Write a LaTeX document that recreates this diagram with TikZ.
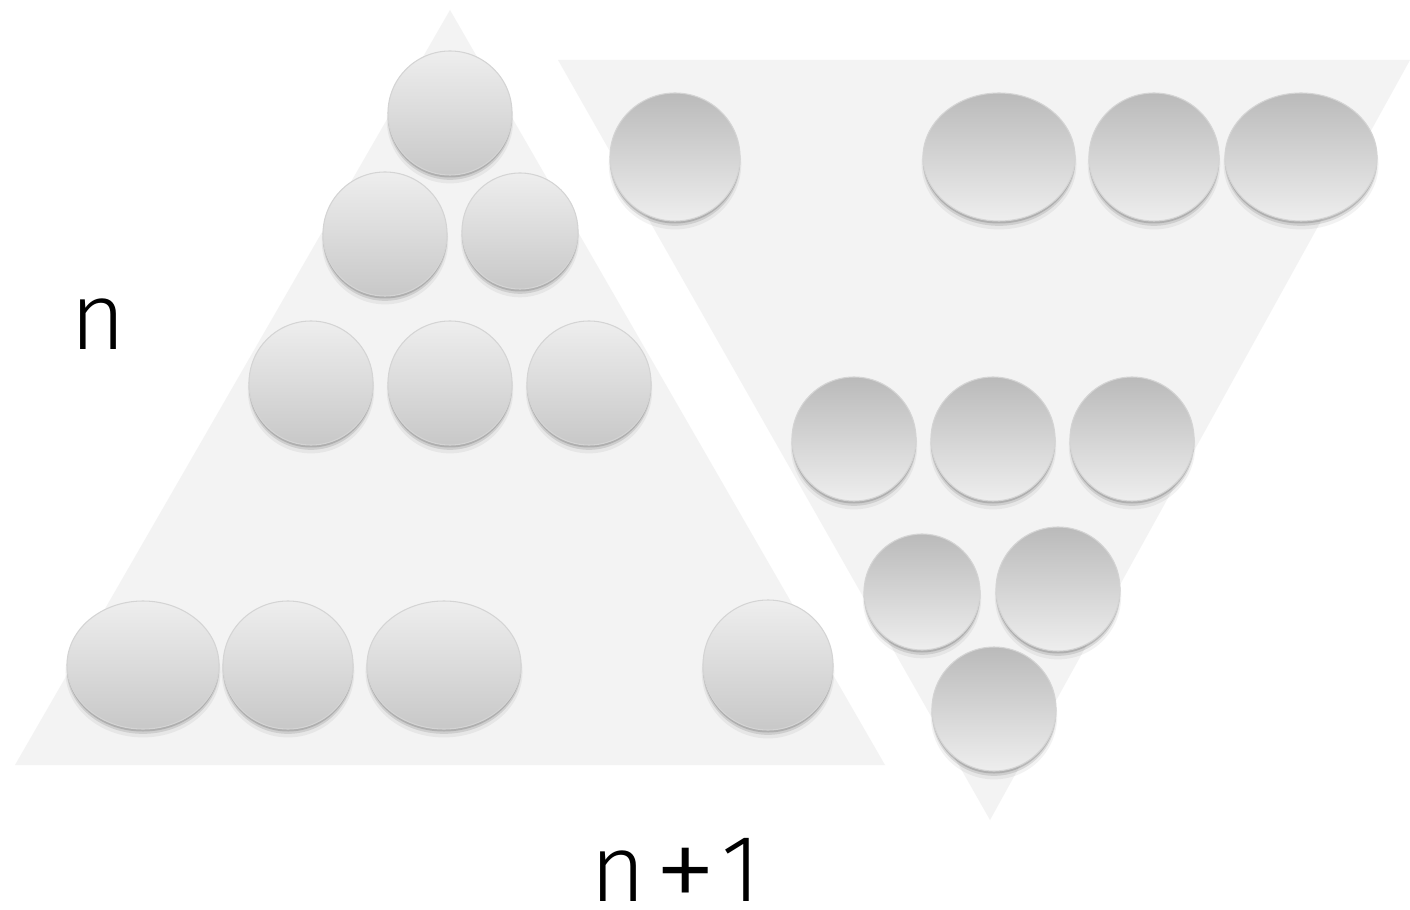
\documentclass[tikz,border=0pt]{standalone}
\usepackage{fontspec}
\setmainfont{Fira Sans}[UprightFont={* Light}]
\usetikzlibrary{shapes.geometric,shadows}
\definecolor{tri}{RGB}{243,243,243}
\definecolor{ltop}{RGB}{238,238,238}
\definecolor{lbot}{RGB}{200,200,200}
\definecolor{rtop}{RGB}{186,186,186}
\definecolor{rbot}{RGB}{238,238,238}
\definecolor{rim}{RGB}{212,212,212}
\tikzset{
  ballbase/.style={ellipse, inner sep=0pt, draw=rim, line width=0.3pt,
    general shadow={fill=black, opacity=0.05, shadow yshift=-0.07cm, shadow scale=1.02},
    general shadow={fill=black, opacity=0.10, shadow yshift=-0.045cm, shadow scale=1.005},
    general shadow={fill=black, opacity=0.15, shadow yshift=-0.025cm}},
  ballL/.style={ballbase, top color=ltop, bottom color=lbot},
  ballR/.style={ballbase, top color=rtop, bottom color=rbot},
  bsz/.style 2 args={minimum width=#1*0.01cm, minimum height=#2*0.01cm},
  lab/.style={font=\fontsize{27}{32}\selectfont, anchor=base, inner sep=0pt, text=black}
}
\begin{document}
\begin{tikzpicture}[x=0.01cm,y=-0.01cm]
\useasboundingbox (0,0) rectangle (1410,910);
\fill[white] (0,0) rectangle (1410,910);
% triangles
\fill[tri] (450,10) -- (885,765) -- (15,765) -- cycle;
\fill[tri] (558,60) -- (1410,60) -- (990,820) -- cycle;
% left triangle balls
\node[ballL, bsz={124}{124}] (L1) at (450,113) {};
\node[ballL, bsz={124}{124}] (L2) at (385,234) {};
\node[ballL, bsz={116}{116}] (L3) at (520,231) {};
\node[ballL, bsz={124}{124}] (L4) at (311,383) {};
\node[ballL, bsz={124}{124}] (L5) at (450,383) {};
\node[ballL, bsz={124}{124}] (L6) at (589,383) {};
\node[ballL, bsz={152}{128}] (L7) at (143,665) {};
\node[ballL, bsz={130}{128}] (L8) at (288,665) {};
\node[ballL, bsz={154}{128}] (L9) at (444,665) {};
\node[ballL, bsz={130}{130}] (L10) at (768,665) {};
% right triangle balls
\node[ballR, bsz={130}{128}] (R1) at (675,157) {};
\node[ballR, bsz={152}{128}] (R2) at (999,157) {};
\node[ballR, bsz={130}{128}] (R3) at (1154,157) {};
\node[ballR, bsz={152}{128}] (R4) at (1301,157) {};
\node[ballR, bsz={124}{124}] (R5) at (854,439) {};
\node[ballR, bsz={124}{124}] (R6) at (993,439) {};
\node[ballR, bsz={124}{124}] (R7) at (1132,439) {};
\node[ballR, bsz={116}{116}] (R8) at (922,592) {};
\node[ballR, bsz={124}{124}] (R9) at (1058,589) {};
\node[ballR, bsz={124}{124}] (R10) at (994,709) {};
% labels
\node[lab] (n) at (98,350) {n};
\node[lab] (n1) at (676,901) {n\hspace{0.08cm}\raisebox{-0.11cm}[0.4cm][0pt]{\fontsize{36}{36}\selectfont +}\hspace{0.05cm}1};
\end{tikzpicture}
\end{document}
